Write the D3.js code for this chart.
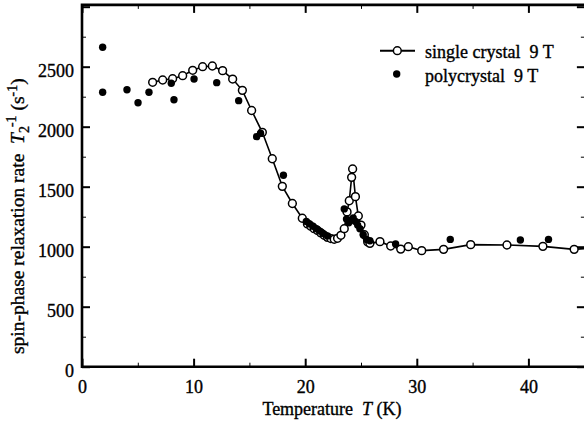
<!DOCTYPE html>
<html><head><meta charset="utf-8">
<script src="https://cdn.jsdelivr.net/npm/d3@7"></script>
<style>
html,body{margin:0;padding:0;background:#fff;}
svg{display:block;}
svg text{font-family:"Liberation Serif","Tinos","Times New Roman",Times,"DejaVu Serif",serif !important;white-space:pre;fill:#000;stroke:#000;stroke-width:0.35px;}
</style></head>
<body>
<svg id="chart" width="584" height="426"></svg>
<script>
// Single crystal 9 T (open circles, connected)
const singleT = [6.33,7.23,8.12,9.02,9.92,10.81,11.68,12.6,13.5,14.37,15.2,16.16,17.05,17.95,18.85,19.74,20.2,20.5,20.8,21.1,21.4,21.7,22.0,22.3,22.6,22.9,23.2,23.5,23.75,23.95,24.16,24.25,24.5,24.76,25.0,25.3,25.6,25.8,26.7,27.66,28.56,29.24,30.44,32.4,34.83,38.08,41.3,44.1,45.8];
const singleV = [2370,2389,2400,2425,2470,2500,2506,2467,2397,2303,2135,1953,1733,1503,1360,1237,1190,1170,1150,1135,1115,1095,1078,1068,1062,1070,1095,1150,1290,1383,1578,1648,1417,1256,1180,1100,1040,1028,1042,1006,980,1000,967,978,1017,1014,1003,978,990];
// Polycrystal 9 T (filled circles)
const polyT = [1.85,1.85,4.03,5.02,6.0,8.0,8.24,10.04,12.07,14.04,15.65,16.0,18.05,20.1,20.4,20.7,21.0,21.3,21.6,22.0,23.5,23.7,23.9,24.1,24.3,24.5,24.7,24.9,25.2,25.5,25.8,28.1,33.0,39.28,41.8];
const polyV = [2662,2287,2308,2200,2287,2362,2225,2397,2367,2217,1917,1945,1595,1210,1190,1170,1150,1130,1110,1090,1315,1230,1200,1220,1240,1210,1180,1150,1100,1060,1050,1022,1061,1056,1061];
// Axis ticks
const xMajorTicks = [0,10,20,30,40];
const xMinorTicks = [5,15,25,35,45];
const yMajorTicks = [0,500,1000,1500,2000,2500,3000];
const yMinorTicks = [250,750,1250,1750,2250,2750];
const yTickLabels = ["0","500","1000","1500","2000","2500",""];
const legendLabels = ["single crystal  9 T","polycrystal  9 T"];

const svg = d3.select("#chart");
const x = d3.scaleLinear().domain([0,45]).range([82,584.2]);
const y = d3.scaleLinear().domain([0,3000]).range([366.7,6.7]);
const xL = x(0), xR = x(45.15), yB = y(0), yT = y(3015);

svg.append("clipPath").attr("id","clip").append("rect")
  .attr("x",xL).attr("y",yT).attr("width",xR-xL).attr("height",yB-yT);

function styleAxis(g){
  g.attr("font-family",null).attr("font-size",null);
  g.select(".domain").remove();
  g.selectAll(".tick line").attr("stroke","#000");
  g.selectAll("text").style("font-size","18px");
}
// Left
svg.append("g").attr("transform",`translate(${xL},0)`)
  .call(d3.axisLeft(y).tickValues(yMajorTicks).tickSize(-8).tickPadding(8).tickFormat((d,i)=>yTickLabels[i]))
  .call(styleAxis).call(g=>g.selectAll(".tick line").attr("stroke-width",2))
  .call(g=>g.selectAll("text").attr("dy","0.55em"));
svg.append("g").attr("transform",`translate(${xL},0)`)
  .call(d3.axisLeft(y).tickValues(yMinorTicks).tickSize(-4).tickFormat(""))
  .call(styleAxis).call(g=>g.selectAll(".tick line").attr("stroke-width",1));
// Right
svg.append("g").attr("transform",`translate(${xR},0)`)
  .call(d3.axisRight(y).tickValues(yMajorTicks).tickSize(-9).tickFormat(""))
  .call(styleAxis).call(g=>g.selectAll(".tick line").attr("stroke-width",2));
svg.append("g").attr("transform",`translate(${xR},0)`)
  .call(d3.axisRight(y).tickValues(yMinorTicks).tickSize(-5).tickFormat(""))
  .call(styleAxis).call(g=>g.selectAll(".tick line").attr("stroke-width",1));
// Bottom
svg.append("g").attr("transform",`translate(0,${yB})`)
  .call(d3.axisBottom(x).tickValues(xMajorTicks).tickSize(-8).tickPadding(14).tickFormat(d3.format("d")))
  .call(styleAxis).call(g=>g.selectAll(".tick line").attr("stroke-width",2));
svg.append("g").attr("transform",`translate(0,${yB})`)
  .call(d3.axisBottom(x).tickValues(xMinorTicks).tickSize(-4).tickFormat(""))
  .call(styleAxis).call(g=>g.selectAll(".tick line").attr("stroke-width",1));
// Top
svg.append("g").attr("transform",`translate(0,${yT})`)
  .call(d3.axisTop(x).tickValues(xMajorTicks).tickSize(-8).tickFormat(""))
  .call(styleAxis).call(g=>g.selectAll(".tick line").attr("stroke-width",2));
svg.append("g").attr("transform",`translate(0,${yT})`)
  .call(d3.axisTop(x).tickValues(xMinorTicks).tickSize(-4).tickFormat(""))
  .call(styleAxis).call(g=>g.selectAll(".tick line").attr("stroke-width",1));

// Frame
svg.append("path")
  .attr("d",`M${xL},${yT}H${xR}V${yB}H${xL}Z`)
  .attr("fill","none").attr("stroke","#000").attr("stroke-width",2.6);

// Data
const plot = svg.append("g").attr("clip-path","url(#clip)");
const singleData = singleT.map((t,i)=>({t, v: singleV[i]}));
const polyData = polyT.map((t,i)=>({t, v: polyV[i]}));
plot.append("path").datum(singleData)
  .attr("d", d3.line().x(d=>x(d.t)).y(d=>y(d.v)))
  .attr("fill","none").attr("stroke","#000").attr("stroke-width",1.6);
plot.selectAll("circle.open").data(singleData).join("circle").attr("class","open")
  .attr("cx",d=>x(d.t)).attr("cy",d=>y(d.v)).attr("r",3.9)
  .attr("fill","#fff").attr("stroke","#000").attr("stroke-width",1.5);
plot.selectAll("circle.fill").data(polyData).join("circle").attr("class","fill")
  .attr("cx",d=>x(d.t)).attr("cy",d=>y(d.v)).attr("r",3.7)
  .attr("fill","#000");

// Legend
const lg = svg.append("g");
lg.append("line").attr("x1",380).attr("x2",415).attr("y1",50.7).attr("y2",50.7)
  .attr("stroke","#000").attr("stroke-width",2);
lg.append("circle").attr("cx",397.3).attr("cy",50.7).attr("r",3.9)
  .attr("fill","#fff").attr("stroke","#000").attr("stroke-width",1.5);
lg.append("circle").attr("cx",396.7).attr("cy",74).attr("r",3.7).attr("fill","#000");
lg.append("text").attr("x",425).attr("y",57.5).style("font-size","18px").text(legendLabels[0]);
lg.append("text").attr("x",425).attr("y",82).style("font-size","18px").text(legendLabels[1]);

// X label
const xl = svg.append("text").attr("x",332).attr("y",415).attr("text-anchor","middle").style("font-size","18px");
xl.append("tspan").text("Temperature  ");
xl.append("tspan").style("font-style","italic").text("T");
xl.append("tspan").text(" (K)");

// Y label
const yl = svg.append("text").attr("transform","translate(24,354) rotate(-90)").style("font-size","19.5px");
yl.append("tspan").text("spin-phase relaxation rate  ");
yl.append("tspan").style("font-style","italic").text("T");
yl.append("tspan").attr("dy",5).style("font-size","14px").text("2");
yl.append("tspan").attr("dx",-1).attr("dy",-13).style("font-size","14px").text("-1");
yl.append("tspan").attr("dy",8).text(" (s");
yl.append("tspan").attr("dy",-7).style("font-size","14px").text("-1");
yl.append("tspan").attr("dy",7).text(")");
</script>
</body></html>
